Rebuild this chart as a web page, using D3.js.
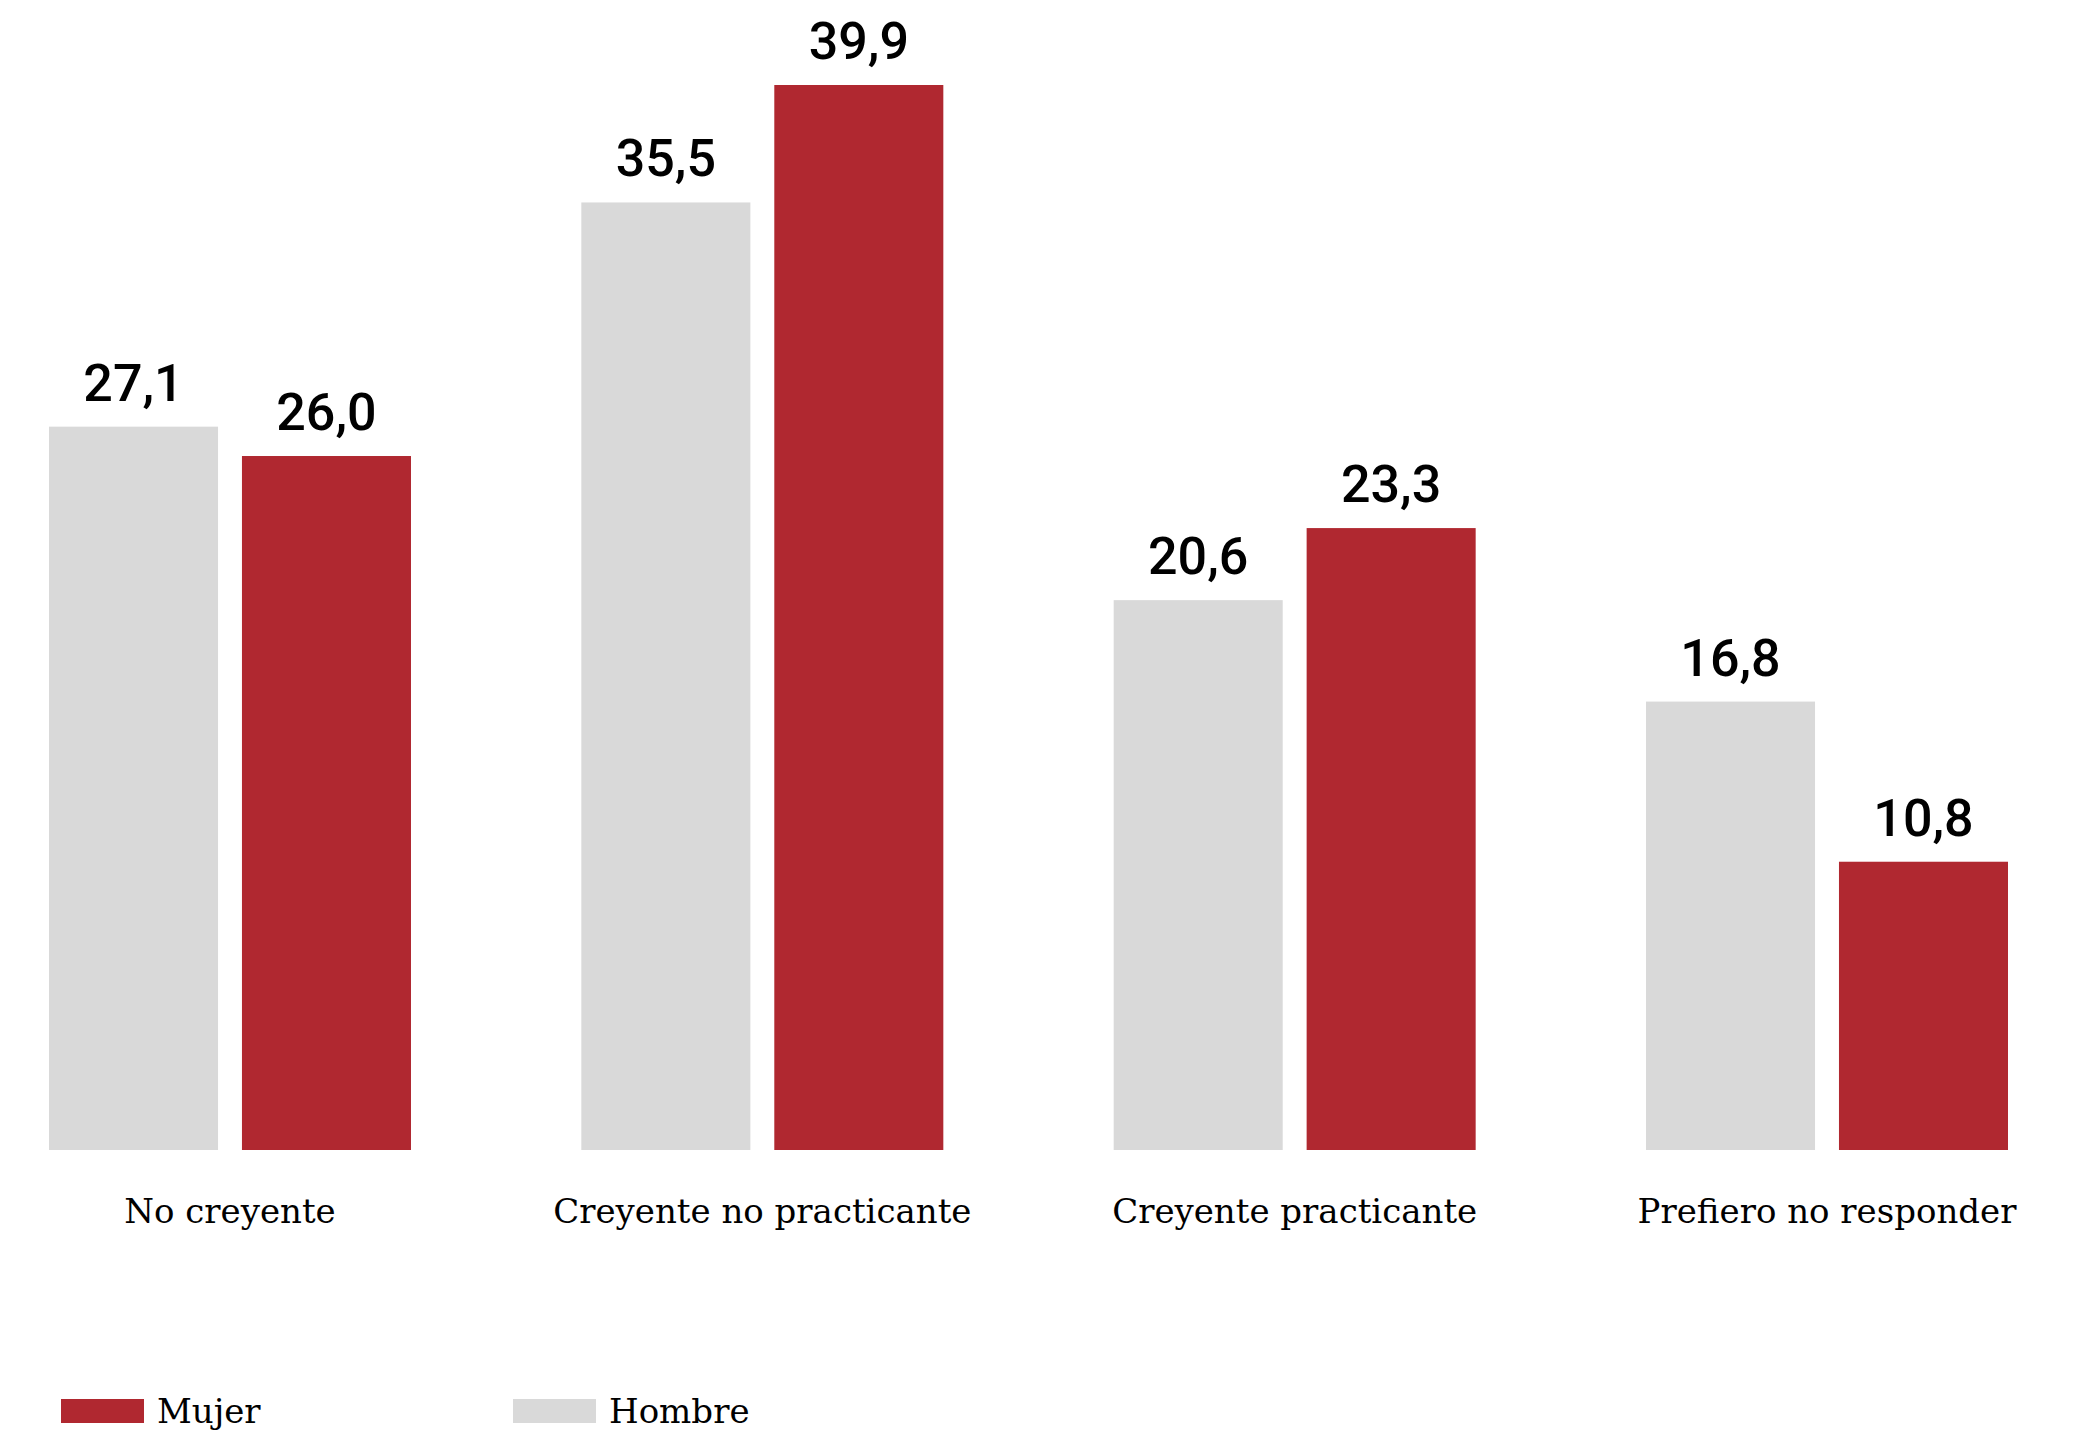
<!DOCTYPE html>
<html>
<head>
<meta charset="utf-8">
<script src="https://cdn.jsdelivr.net/npm/d3@7"></script>
<style>
  html, body { margin: 0; padding: 0; background: #fff; }
  svg { display: block; }
</style>
</head>
<body>
<svg id="chart" width="2076" height="1430"></svg>
<script>
const categories = ["No creyente", "Creyente no practicante", "Creyente practicante", "Prefiero no responder"];
const seriesNames = ["Hombre", "Mujer"];
const hombre = [27.1, 35.5, 20.6, 16.8];
const mujer = [26.0, 39.9, 23.3, 10.8];
const legendOrder = ["Mujer", "Hombre"];

const colors = { Hombre: "#d9d9d9", Mujer: "#b02830" };

const W = 2076, H = 1430;
const svg = d3.select("#chart");

const x0 = d3.scaleBand().domain(categories).range([49, 2008]).paddingInner(0.32).paddingOuter(0);
const x1 = d3.scaleBand().domain(seriesNames).range([0, x0.bandwidth()]).paddingInner(0.124);
const y = d3.scaleLinear().domain([0, 39.9]).range([1150, 85]);

const data = categories.map((c, i) => ({ cat: c, values: [
  { key: "Hombre", value: hombre[i] },
  { key: "Mujer", value: mujer[i] }
]}));

const fmt = v => d3.format(".1f")(v).replace(".", ",");

const g = svg.selectAll("g.group").data(data).join("g")
  .attr("class", "group")
  .attr("transform", d => `translate(${x0(d.cat)},0)`);

g.selectAll("rect").data(d => d.values).join("rect")
  .attr("x", d => x1(d.key))
  .attr("y", d => y(d.value))
  .attr("width", x1.bandwidth())
  .attr("height", d => y(0) - y(d.value))
  .attr("fill", d => colors[d.key]);

g.selectAll("text.val").data(d => d.values).join("text")
  .attr("class", "val")
  .attr("x", d => x1(d.key) + x1.bandwidth() / 2)
  .attr("y", d => y(d.value) - 26)
  .attr("text-anchor", "middle")
  .attr("font-family", "Roboto, sans-serif")
  .attr("font-weight", 500)
  .attr("font-size", 52)
  .attr("fill", "#000")
  .text(d => fmt(d.value));

// category axis labels
const xAxis = d3.axisBottom(x0).tickSize(0).tickPadding(0);
const ax = svg.append("g").attr("transform", `translate(0,${y(0)})`).call(xAxis);
ax.select(".domain").remove();
ax.selectAll("text")
  .attr("y", 73)
  .attr("dy", 0)
  .attr("font-family", "'DejaVu Serif', serif")
  .attr("font-size", 34)
  .attr("fill", "#000");

// legend
const leg = svg.append("g");
const legX = d3.scalePoint().domain(legendOrder).range([61, 513]);
const li = leg.selectAll("g").data(legendOrder).join("g")
  .attr("transform", d => `translate(${legX(d)},1399)`);
li.append("rect").attr("width", 83).attr("height", 24).attr("fill", d => colors[d]);
li.append("text").attr("x", 96).attr("y", 24)
  .attr("font-family", "'DejaVu Serif', serif")
  .attr("font-size", 34)
  .attr("fill", "#000")
  .text(d => d);
</script>
</body>
</html>
